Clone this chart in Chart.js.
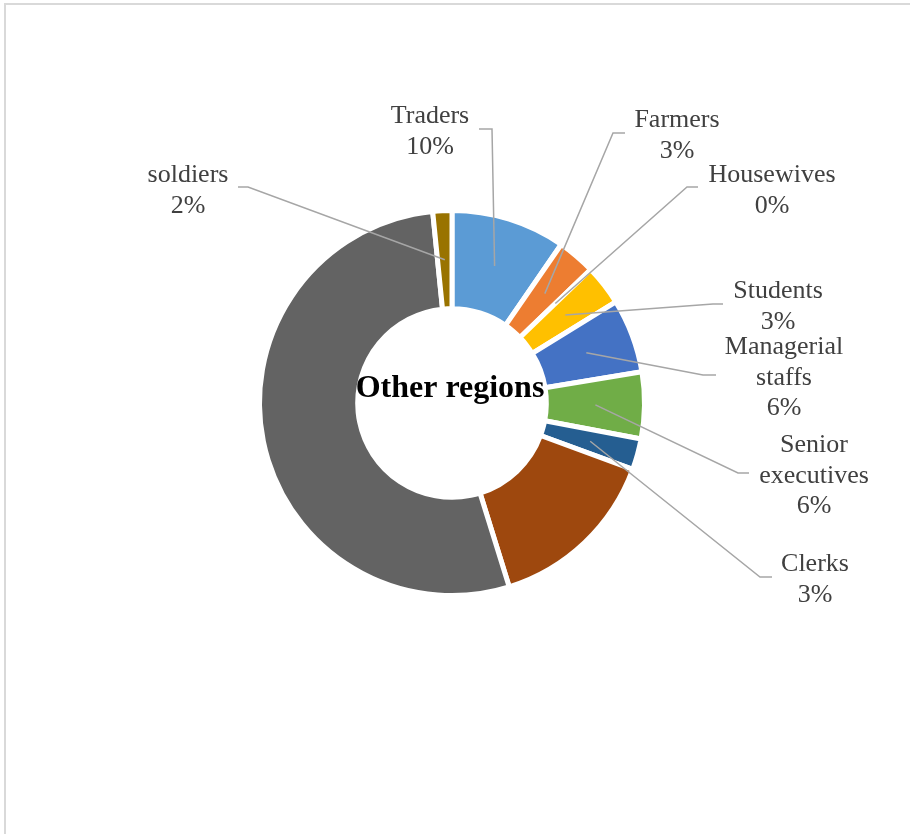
<!DOCTYPE html>
<html>
<head>
<meta charset="utf-8">
<script src="https://cdn.jsdelivr.net/npm/chart.js@4/dist/chart.umd.min.js"></script>
<style>
  body { margin: 0; background: #fff; overflow: hidden; }
  #wrap { position: relative; width: 910px; height: 834px; }
  #frame {
    position: absolute; left: 4px; top: 3px; right: -10px; bottom: -10px;
    border-left: 2px solid #d9d9d9; border-top: 2px solid #d9d9d9;
    pointer-events: none;
  }
  canvas { position: absolute; left: 0; top: 0; }
</style>
</head>
<body>
<div id="wrap">
  <canvas id="chart1" width="910" height="834"></canvas>
  <div id="frame"></div>
</div>
<script>
// occupations, share in percent (two slices carry no label)
const categories = ['Traders', 'Farmers', 'Housewives', 'Students', ['Managerial', 'staffs'],
  ['Senior', 'executives'], 'Clerks', '', '', 'soldiers'];
const shares = [9.6, 3.2, 0, 3.4, 6.2, 5.6, 2.6, 14.6, 53.2, 1.6];
const sliceColors = ['#5B9BD5', '#ED7D31', '#A5A5A5', '#FFC000', '#4472C4',
  '#70AD47', '#255E91', '#9E480E', '#636363', '#997300'];
const centerTitle = 'Other regions';

// callout placement, offsets from the doughnut centre:
// [text centre x, first baseline y, line start x, knee x, line y]
const callouts = {
  0: [-22, -280, 27, 40, -274],
  1: [225, -276, 173, 161, -270],
  2: [320, -221, 246, 235, -216],
  3: [326, -105, 271, 261, -99],
  4: [332, -49, 264, 251, -28],
  5: [362, 49, 297, 286, 70],
  6: [363, 168, 320, 308, 174],
  9: [-264, -221, -214, -204, -216]
};

const calloutPlugin = {
  id: 'callouts',
  afterDatasetsDraw(chart) {
    const ctx = chart.ctx;
    const meta = chart.getDatasetMeta(0);
    const arcs = meta.data;
    const cx = arcs[0].x, cy = arcs[0].y;
    ctx.save();
    // leader lines
    ctx.strokeStyle = '#A6A6A6';
    ctx.lineWidth = 1.5;
    Object.keys(callouts).forEach(k => {
      const i = +k;
      const [, , sx, kx, ly] = callouts[i];
      const p = arcs[i].tooltipPosition();
      ctx.beginPath();
      ctx.moveTo(cx + sx, cy + ly);
      ctx.lineTo(cx + kx, cy + ly);
      ctx.lineTo(p.x, p.y);
      ctx.stroke();
    });
    // label text
    ctx.fillStyle = '#404040';
    ctx.font = '26px "Liberation Serif", "Times New Roman", serif';
    ctx.textAlign = 'center';
    ctx.textBaseline = 'alphabetic';
    Object.keys(callouts).forEach(k => {
      const i = +k;
      const [tx, ty] = callouts[i];
      const name = categories[i];
      const lines = (Array.isArray(name) ? name.slice() : [name]);
      lines.push(Math.round(shares[i]) + '%');
      lines.forEach((t, j) => ctx.fillText(t, cx + tx, cy + ty + j * 30.5));
    });
    // title in the hole
    ctx.fillStyle = '#000';
    ctx.font = 'bold 32px "Liberation Serif", "Times New Roman", serif';
    ctx.fillText(centerTitle, cx - 2, cy - 6);
    ctx.restore();
  }
};

new Chart(document.getElementById('chart1'), {
  type: 'doughnut',
  data: {
    labels: categories,
    datasets: [{
      data: shares,
      backgroundColor: sliceColors,
      borderColor: '#ffffff',
      borderWidth: 5
    }]
  },
  options: {
    responsive: false,
    animation: false,
    radius: 192.5,
    cutout: '49%',
    layout: { padding: { left: 0, top: 0, right: 6, bottom: 28 } },
    plugins: {
      legend: { display: false },
      tooltip: { enabled: false }
    }
  },
  plugins: [calloutPlugin]
});
</script>
</body>
</html>
